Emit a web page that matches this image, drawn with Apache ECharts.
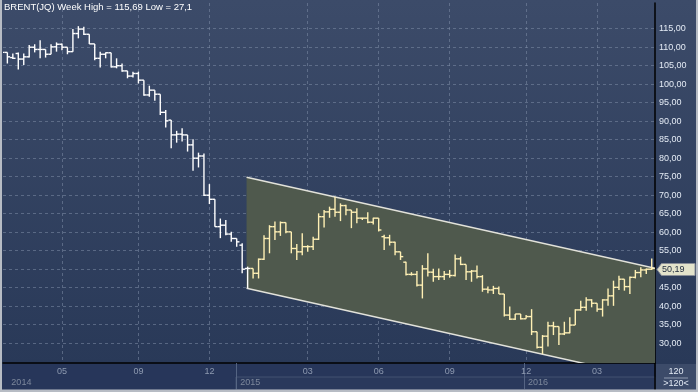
<!DOCTYPE html>
<html><head><meta charset="utf-8">
<script src="https://cdn.jsdelivr.net/npm/echarts@6/dist/echarts.min.js"></script>
<style>html,body{margin:0;padding:0;background:#2b3a59}#c{width:698px;height:392px}</style>
</head><body><div id="c"></div>
<script>
// Weekly OHLC, one entry per week (120 weeks)
const openP = [108.0,108.6,107.2,108.3,106.8,107.4,110.0,109.4,109.4,108.1,110.1,110.8,110.0,108.8,113.7,114.9,113.5,110.9,107.0,108.1,
108.5,104.7,105.0,103.6,102.2,102.9,101.1,97.1,98.4,97.3,92.4,90.3,86.3,86.5,86.3,83.6,80.0,80.6,70.0,68.9,
61.5,61.9,59.5,58.3,56.5,50.2,50.2,48.9,52.7,58.3,61.5,60.1,62.6,60.1,55.6,54.7,56.1,56.1,58.1,64.2,
65.5,66.2,65.4,67.2,66.0,65.4,63.8,63.8,62.7,63.8,58.8,58.5,57.3,54.7,51.9,48.6,48.6,45.7,50.1,49.2,
48.0,48.0,48.6,48.3,52.8,51.3,49.3,49.5,48.0,44.6,44.4,44.8,43.3,37.6,36.5,37.9,36.6,37.2,33.1,28.9,
31.9,34.7,34.5,32.5,32.8,34.9,39.0,39.7,41.7,40.8,39.2,41.7,42.8,45.1,47.3,45.3,47.8,49.1,49.8,50.0];
const highP = [109.2,108.6,108.3,108.6,108.3,110.6,110.8,111.9,109.4,110.8,111.3,111.0,110.0,114.9,115.69,115.5,113.5,110.9,108.8,108.6,
108.5,107.0,105.6,103.6,103.4,103.4,101.1,99.6,98.4,97.3,93.0,90.3,87.4,88.1,86.3,85.1,81.5,81.3,73.0,68.9,
63.7,63.3,60.1,58.3,57.0,50.7,50.2,52.9,59.2,61.9,62.9,62.9,62.6,60.1,56.8,59.7,56.5,58.8,65.1,66.0,
66.9,69.6,67.8,67.4,66.0,66.5,63.9,65.4,63.9,63.8,59.3,59.3,57.4,54.7,52.0,49.2,49.5,51.1,54.3,50.1,
50.2,49.5,49.8,54.0,53.4,51.3,49.8,51.0,48.4,45.3,45.5,45.3,43.3,39.9,37.9,37.9,37.6,39.2,33.1,32.2,
35.8,35.8,34.5,35.8,37.0,39.2,41.5,42.4,41.9,40.8,41.9,44.8,46.9,48.2,47.3,48.0,49.8,50.5,50.2,52.9];
const lowP = [107.5,105.6,106.8,104.0,105.2,107.2,108.6,107.0,107.2,108.1,108.8,109.2,108.1,108.8,112.4,113.3,110.9,106.5,104.5,107.0,
104.5,104.3,103.4,101.6,101.8,100.2,96.9,96.6,95.5,91.7,88.3,82.7,84.2,84.5,81.8,76.6,77.5,69.8,67.6,61.5,
58.4,59.2,57.4,56.1,48.9,44.84,47.5,47.5,52.5,54.3,57.9,59.0,59.7,54.3,52.5,53.8,54.7,55.2,57.9,61.3,
63.9,64.2,63.0,64.6,61.1,62.4,63.3,62.4,62.1,60.2,55.2,56.4,53.8,52.5,48.3,48.3,45.3,42.1,48.0,46.6,
47.1,47.1,47.7,48.0,51.1,47.1,46.6,47.5,43.9,43.5,43.3,43.3,37.2,36.3,36.3,36.4,36.6,32.2,28.6,27.1,
29.1,32.2,29.5,32.2,32.7,34.9,38.8,38.8,39.7,38.5,37.2,40.1,40.1,44.4,44.2,43.3,47.5,47.8,48.7,49.8];
const closeP = [108.6,107.4,107.0,106.8,107.4,110.0,109.4,109.4,108.1,110.1,110.8,110.0,108.8,113.7,114.9,113.5,110.9,107.0,108.1,108.5,
104.7,105.0,103.6,102.2,102.9,101.1,97.1,98.4,97.3,92.4,90.1,86.3,86.5,86.3,83.6,80.0,80.6,70.0,68.9,61.5,
61.9,59.5,58.3,57.4,50.0,50.2,48.9,52.7,58.3,61.5,60.1,62.6,60.1,55.6,54.7,56.1,56.1,58.1,64.2,65.5,
66.2,65.4,67.2,66.0,65.4,63.8,63.8,62.7,63.8,60.6,58.5,57.3,54.7,53.4,48.6,48.6,45.7,50.1,49.2,48.0,
48.0,48.6,48.3,52.8,51.3,49.3,49.5,48.0,44.6,44.4,44.8,43.3,37.6,36.5,37.9,36.6,37.2,33.1,28.9,31.9,
34.7,34.5,32.5,32.8,34.9,39.0,39.7,41.7,40.8,39.2,41.7,42.8,45.1,47.3,45.3,47.8,49.1,49.8,50.0,50.19];

const monthTickPos = [11, 25, 38, 56, 69, 82, 96, 109];
const monthTickLabels = ['05', '09', '12', '03', '06', '09', '12', '03'];
const yearTickPos = [1, 42.9, 95.6];
const yearTickLabels = ['2014', '2015', '2016'];
const yTicks = [30, 35, 40, 45, 50, 55, 60, 65, 70, 75, 80, 85, 90, 95, 100, 105, 110, 115];
const channelTop = [[44.8, 74.84], [119.6, 50.25]];
const channelBottom = [[44.8, 44.84], [119.6, 20.25]];
const channelStartBar = 46;
const lastClose = 50.19;
const titleText = 'BRENT(JQ) Week High = 115,69 Low = 27,1';
const barCountText = '120';
const barRangeText = '>120<';

const fmt = v => v.toFixed(2).replace('.', ',');
const FONT = 'Liberation Sans';

const barData = openP.map((o, i) => [i, o, highP[i], lowP[i], closeP[i]]);

const chart = echarts.init(document.getElementById('c'), null, {renderer: 'canvas'});
chart.setOption({
  animation: false,
  backgroundColor: '#2b3a59',
  title: {text: titleText, left: 4, top: 2, padding: 0, textStyle: {color: '#ffffff', fontSize: 9.5, fontWeight: 'normal', fontFamily: FONT}},
  grid: {left: 3, top: 3, width: 652, height: 360, containLabel: false},
  xAxis: [{
    type: 'value', min: 0.2, max: 119.6, position: 'bottom',
    axisLine: {show: true, onZero: false, lineStyle: {color: '#000000', width: 1.5}},
    axisTick: {show: false, customValues: monthTickPos},
    axisLabel: {customValues: monthTickPos, color: '#8e9ab0', fontSize: 9, fontFamily: FONT, margin: 4,
      formatter: v => monthTickLabels[monthTickPos.indexOf(v)] || ''},
    splitLine: {show: true, lineStyle: {color: 'rgba(125,140,165,0.55)', type: [3, 3], width: 1}}
  }, {
    type: 'value', min: 0.2, max: 119.6, position: 'bottom', offset: 0,
    axisLine: {show: false},
    axisTick: {show: true, customValues: yearTickPos.slice(1), length: 26, lineStyle: {color: 'rgba(90,105,135,0.9)'}},
    axisLabel: {customValues: yearTickPos, color: '#7d889c', fontSize: 9, fontFamily: FONT, margin: 15, align: 'left', padding: [0, 0, 0, 4],
      formatter: v => yearTickLabels[yearTickPos.indexOf(v)] || ''},
    splitLine: {show: false}
  }],
  yAxis: {
    type: 'value', min: 24.65, max: 121.95, position: 'right',
    axisLine: {show: true, onZero: false, lineStyle: {color: '#000000', width: 1.5}},
    axisTick: {show: false, customValues: yTicks},
    axisLabel: {customValues: yTicks, color: '#e4ebf5', fontSize: 9, fontFamily: FONT, margin: 4, formatter: v => fmt(v)},
    splitLine: {show: true, lineStyle: {color: 'rgba(125,140,165,0.55)', type: [3, 3], width: 1}}
  },
  graphic: [
    {type: 'rect', z: -10, shape: {x: 0, y: 0, width: 698, height: 364},
      style: {fill: new echarts.graphic.LinearGradient(0, 0, 0, 1, [{offset: 0, color: '#3c4b69'}, {offset: 1, color: '#293958'}])}},
    {type: 'rect', z: -10, shape: {x: 0, y: 364, width: 698, height: 28}, style: {fill: '#27365a'}},
    {type: 'rect', z: -9, shape: {x: 236, y: 377, width: 419, height: 13}, style: {fill: '#2a395c', stroke: 'rgba(70,85,115,0.9)', lineWidth: 1}},
    {type: 'rect', z: -9, shape: {x: 656, y: 364, width: 40, height: 26}, style: {fill: '#3c4b69'}},
    {type: 'line', z: 10, shape: {x1: 655, y1: 363, x2: 655, y2: 390}, style: {stroke: '#000', lineWidth: 1.5}},
    {type: 'line', z: 10, shape: {x1: 664, y1: 378, x2: 688, y2: 378}, style: {stroke: 'rgba(200,210,225,0.6)', lineWidth: 1}},
    {type: 'text', z: 10, style: {text: barCountText, x: 676, y: 371.5, fill: '#e4ebf5', font: '9px ' + FONT, align: 'center', verticalAlign: 'middle'}},
    {type: 'text', z: 10, style: {text: barRangeText, x: 676, y: 384, fill: '#e4ebf5', font: '9px ' + FONT, align: 'center', verticalAlign: 'middle'}},
    {type: 'rect', z: 20, shape: {x: 0, y: 0, width: 2, height: 392}, style: {fill: '#b7bcc4'}},
    {type: 'rect', z: 20, shape: {x: 696, y: 0, width: 2, height: 392}, style: {fill: '#b7bcc4'}},
    {type: 'rect', z: 20, shape: {x: 0, y: 389.5, width: 698, height: 3}, style: {fill: '#b7bcc4'}}
  ],
  series: [{
    type: 'custom', name: 'channel', z: 1, clip: true,
    data: [[0]],
    renderItem: (params, api) => {
      const t0 = api.coord(channelTop[0]), t1 = api.coord(channelTop[1]);
      const b0 = api.coord(channelBottom[0]), b1 = api.coord(channelBottom[1]);
      return {type: 'group', children: [
        {type: 'polygon', shape: {points: [t0, t1, b1, b0]}, style: {fill: '#4f594d', stroke: null}},
        {type: 'line', shape: {x1: t0[0], y1: t0[1], x2: t1[0], y2: t1[1]}, style: {stroke: '#e2e2da', lineWidth: 1.5}},
        {type: 'line', shape: {x1: b0[0], y1: b0[1], x2: b1[0], y2: b1[1]}, style: {stroke: '#e2e2da', lineWidth: 1.5}}
      ]};
    }
  }, {
    type: 'custom', name: 'BRENT', z: 3, clip: true,
    data: barData,
    renderItem: (params, api) => {
      const i = api.value(0);
      const o = api.coord([i, api.value(1)]);
      const h = api.coord([i, api.value(2)]);
      const l = api.coord([i, api.value(3)]);
      const c = api.coord([i, api.value(4)]);
      const half = api.size([1, 0])[0] / 2;
      const col = i >= channelStartBar ? '#fff0b4' : '#ffffff';
      const st = {stroke: col, lineWidth: 1.4};
      return {type: 'group', children: [
        {type: 'line', shape: {x1: h[0], y1: h[1], x2: l[0], y2: l[1]}, style: st},
        {type: 'line', shape: {x1: o[0] - half, y1: o[1], x2: o[0], y2: o[1]}, style: st},
        {type: 'line', shape: {x1: c[0], y1: c[1], x2: c[0] + half, y2: c[1]}, style: st}
      ]};
    }
  }, {
    type: 'custom', name: 'last', z: 5, clip: false,
    data: [[119.6, lastClose]],
    renderItem: (params, api) => {
      const p = api.coord([api.value(0), api.value(1)]);
      const x = p[0] + 2, y = Math.round(p[1]) + 0.5;
      return {type: 'group', children: [
        {type: 'polygon', shape: {points: [[x, y], [x + 4.5, y - 6], [x + 38, y - 6], [x + 38, y + 6], [x + 4.5, y + 6]]},
          style: {fill: '#e3e3cb', stroke: '#8a8f98', lineWidth: 1}},
        {type: 'text', style: {text: fmt(api.value(1)), x: x + 5, y: y + 0.5, fill: '#1e2a3c', font: '9px ' + FONT, verticalAlign: 'middle'}}
      ]};
    }
  }]
});
</script></body></html>
